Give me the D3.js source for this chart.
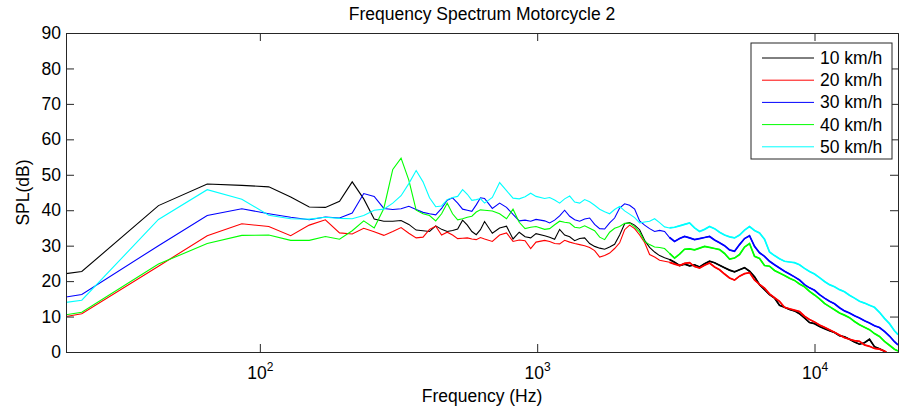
<head>
    <script src="https://d3js.org/d3.v7.min.js"></script>
    <style>
        body { margin: 0; background: #fff; }
        text { font-family: "Liberation Sans", Arial, sans-serif; fill: #000; }
    </style>
</head>
<body>
    <script>
        // frequency grid (Hz): FFT bins at the low end, then ~1 point per 5px of the log axis
        var freq = [20, 22.8, 43.1, 64.6, 86.1, 107.7, 129.2, 150.7, 172.3, 193.8,
            215.3, 236.9, 258.4, 279.9, 301.5, 323.0, 344.5, 366.1, 387.6, 409.1,
            430.7, 452.2, 473.7, 495.3, 516.8, 538.3, 559.9, 581.4, 602.9, 624.4,
            646.0, 689.1, 732.1, 775.2, 818.3, 861.3, 904.4, 947.5, 990.5,
            1064, 1109, 1156, 1205, 1256, 1310, 1365, 1423, 1483, 1546,
            1611, 1680, 1751, 1825, 1902, 1983, 2067, 2154, 2246, 2341,
            2440, 2543, 2651, 2763, 2880, 3002, 3129, 3262, 3400, 3544,
            3694, 3851, 4014, 4184, 4361, 4546, 4738, 4939, 5148, 5366,
            5594, 5830, 6077, 6335, 6603, 6883, 7174, 7478, 7795, 8125,
            8469, 8828, 9202, 9592, 10000, 10424, 10865, 11325, 11805, 12305,
            12826, 13369, 13935, 14526, 15141, 15782, 16451, 17147, 17874, 18631,
            19420, 20000];

        var spl10 = [22.1, 22.7, 41.3, 47.4, 47.0, 46.6, 43.7, 40.9, 40.8, 42.5,
            48.0, 43.2, 37.5, 36.9, 36.9, 37.1, 36.0, 34.4, 34.2, 34.0,
            35.6, 34.6, 34.0, 34.3, 34.7, 37.2, 35.8, 34.0, 33.1, 34.5,
            36.8, 33.5, 35.0, 35.5, 31.9, 33.8, 32.5, 32.2, 33.4,
            32.8, 32.4, 31.8, 34.6, 33.0, 32.5, 31.4, 32.0, 32.2, 30.6,
            29.8, 29.3, 29.0, 29.6, 30.4, 33.0, 36.2, 36.5, 35.8, 34.5,
            31.5, 29.5, 28.2, 27.2, 26.6, 26.1, 25.3, 24.4, 24.8, 24.3,
            24.6, 24.0, 24.9, 25.6, 25.2, 24.5, 23.8, 23.1, 22.6, 23.2,
            23.8, 22.8, 21.2, 19.0, 17.6, 16.2, 15.2, 13.2, 12.6, 12.0,
            11.6, 10.8, 9.6, 8.3, 8.0, 7.2, 6.6, 6.0, 5.5, 4.6,
            4.3, 3.6, 2.8, 2.2, 2.6, 3.6, 1.5, 0.9, 0.2, -0.8,
            -1.5, -2.0];

        var spl20 = [10.0, 10.8, 24.2, 32.8, 36.2, 35.4, 32.8, 35.8, 37.3, 33.6,
            33.3, 34.9, 33.9, 32.9, 34.0, 35.1, 33.5, 32.2, 32.4, 34.6,
            35.5, 33.0, 33.8, 33.0, 32.0, 32.1, 32.2, 31.9, 31.7, 32.3,
            31.9, 31.2, 33.0, 33.6, 31.2, 31.6, 31.4, 29.2, 31.0,
            31.5, 31.2, 30.6, 30.5, 31.5, 31.0, 30.6, 30.3, 30.0, 29.5,
            28.6, 26.8, 27.2, 27.9, 29.2, 30.8, 34.5, 35.8, 34.8, 33.0,
            30.9, 27.5, 26.8, 25.9, 25.6, 25.3, 24.8, 24.4, 25.0, 25.2,
            24.1, 23.7, 24.5, 25.1, 24.0, 23.2, 22.0, 20.9, 20.3, 21.4,
            22.1, 22.4, 20.3, 19.1, 18.0, 16.4, 15.3, 14.3, 12.6, 12.2,
            11.8, 11.4, 10.1, 9.2, 8.5, 7.6, 7.0, 6.3, 5.6, 4.8,
            4.0, 3.6, 3.2, 3.0, 2.0, 1.6, 1.0, 0.8, 0.3, -0.8,
            -1.8, -2.5];

        var spl30 = [15.5, 16.2, 30.0, 38.5, 40.4, 39.0, 38.0, 37.3, 38.1, 37.8,
            39.2, 44.7, 43.9, 40.5, 40.2, 40.4, 41.1, 40.2, 39.4, 39.0,
            38.7, 40.5, 42.8, 43.5, 42.0, 40.3, 40.0, 39.7, 41.5, 43.5,
            43.3, 40.5, 42.0, 40.8, 38.8, 37.0, 37.2, 36.9, 37.4,
            37.0, 36.4, 37.2, 38.4, 40.0, 38.3, 37.3, 36.9, 37.5, 37.8,
            36.0, 34.8, 34.7, 36.4, 37.8, 40.6, 41.8, 41.4, 40.3, 37.0,
            35.8, 34.8, 34.0, 34.3, 34.0, 32.3, 31.2, 32.0, 32.6, 32.2,
            31.7, 32.0, 32.3, 32.6, 31.6, 30.8, 30.0, 28.8, 28.4, 30.3,
            32.0, 32.8, 29.8, 28.0, 27.0, 25.6, 24.6, 23.7, 22.8, 22.0,
            21.2, 20.3, 19.0, 18.1, 17.4, 16.2, 15.2, 14.3, 13.6, 12.5,
            11.6, 11.0, 10.2, 9.6, 8.8, 8.2, 7.4, 6.9, 5.8, 4.5,
            2.9, 2.0];

        var spl40 = [10.5, 11.2, 24.8, 30.6, 32.9, 33.0, 31.5, 31.5, 32.6, 31.8,
            34.2, 37.0, 35.0, 40.5, 51.5, 54.7, 48.5, 40.0, 39.0, 38.5,
            37.0, 39.0, 42.0, 39.0, 37.3, 37.6, 38.0, 38.3, 39.5, 40.1,
            40.0, 39.8, 39.0, 37.6, 40.3, 36.6, 34.8, 35.2, 35.4,
            34.6, 34.8, 35.9, 36.9, 36.6, 36.4, 35.2, 35.0, 35.6, 34.9,
            34.2, 32.4, 31.7, 33.8, 34.9, 35.4, 36.3, 36.4, 35.3, 33.8,
            31.2, 30.3, 29.6, 29.5, 29.2, 27.8, 26.5, 27.6, 29.0, 29.1,
            28.8, 29.3, 29.8, 29.5, 29.2, 28.9, 27.8, 26.2, 26.5, 27.5,
            29.6, 30.6, 27.0, 26.4, 24.4, 24.2, 23.0, 22.3, 21.6, 20.8,
            20.2, 19.2, 18.4, 17.1, 16.1, 15.0, 13.7, 12.8, 11.9, 11.0,
            10.4, 9.7, 8.6, 7.7, 7.0, 6.3, 5.2, 4.4, 3.0, 1.9,
            0.8, 0.3];

        var spl50 = [14.0, 14.6, 37.4, 45.8, 43.1, 38.6, 37.6, 37.5, 38.0, 37.7,
            37.6, 38.5, 40.0, 40.3, 42.0, 44.1, 47.5, 51.2, 48.0, 43.5,
            41.0, 41.2, 43.0, 43.6, 43.9, 45.8, 44.5, 42.8, 43.0, 43.3,
            42.0, 43.6, 47.8, 45.5, 43.4, 43.2, 43.8, 44.8, 43.9,
            43.3, 43.6, 42.9, 42.0, 43.2, 44.0, 42.3, 42.0, 43.0, 42.4,
            41.4, 40.3, 39.6, 39.0, 40.2, 41.1, 39.8, 38.9, 37.9, 36.4,
            36.7, 36.9, 37.6, 36.5, 35.3, 35.0, 35.2, 35.6, 36.0, 36.4,
            35.0, 34.0, 34.6, 35.4, 34.8, 33.8, 33.0, 32.5, 32.2, 33.0,
            34.4, 35.4, 34.3, 33.6, 31.8, 28.2, 27.2, 26.3, 25.6, 25.4,
            25.2, 24.6, 23.6, 22.7, 22.0, 21.0, 19.9, 19.0, 18.4, 17.6,
            17.0, 16.0, 15.2, 14.3, 13.8, 13.2, 12.6, 11.2, 9.5, 8.0,
            6.0, 4.9];

        var labels = ["10 km/h", "20 km/h", "30 km/h", "40 km/h", "50 km/h"];
        var colors = ["#000000", "#ff0000", "#0000ff", "#00ff00", "#00ffff"];
        var yTicks = [0, 10, 20, 30, 40, 50, 60, 70, 80, 90];
        var xTicks = [100, 1000, 10000];

        var series = [spl10, spl20, spl30, spl40, spl50].map(function(v, i) {
            return { name: labels[i], color: colors[i], values: v };
        });

        var width = 903, height = 409;
        var plotL = 66, plotR = 898, plotT = 33, plotB = 352;

        var x = d3.scaleLog().domain([20, 20000]).range([plotL, plotR]);
        var y = d3.scaleLinear().domain([0, 90]).range([plotB, plotT]);

        var svg = d3.select("body").append("svg")
            .attr("width", width)
            .attr("height", height);

        svg.append("defs").append("clipPath")
            .attr("id", "plot-clip")
            .append("rect")
            .attr("x", plotL).attr("y", plotT)
            .attr("width", plotR - plotL).attr("height", plotB - plotT);

        var line = d3.line()
            .x(function(d, i) { return x(freq[i]); })
            .y(function(d) { return y(d); });

        // the dense, noisy upper band reads as a slightly heavier trace
        var lineHigh = d3.line()
            .defined(function(d, i) { return freq[i] >= 3000; })
            .x(function(d, i) { return x(freq[i]); })
            .y(function(d) { return y(d); });

        var plot = svg.append("g").attr("clip-path", "url(#plot-clip)");

        var traces = plot.selectAll("g.spl")
            .data(series)
            .enter()
            .append("g")
            .attr("class", "spl");
        traces.append("path")
            .attr("d", function(d) { return line(d.values); })
            .style("fill", "none")
            .style("stroke", function(d) { return d.color; })
            .style("stroke-width", 1.1);
        traces.append("path")
            .attr("d", function(d) { return lineHigh(d.values); })
            .style("fill", "none")
            .style("stroke", function(d) { return d.color; })
            .style("stroke-width", 1.7);

        var axisColor = "#262626";

        // axes with inward ticks, box on all four sides
        var xAxis = svg.append("g")
            .attr("transform", "translate(0," + plotB + ")")
            .call(d3.axisBottom(x).tickValues(xTicks).tickSize(-8).tickFormat(function() { return ""; }));
        svg.append("g")
            .attr("transform", "translate(0," + plotT + ")")
            .call(d3.axisTop(x).tickValues(xTicks).tickSize(-8).tickFormat(function() { return ""; }));
        svg.append("g")
            .attr("transform", "translate(" + plotL + ",0)")
            .call(d3.axisLeft(y).tickValues(yTicks).tickSize(-8).tickPadding(5));
        svg.append("g")
            .attr("transform", "translate(" + plotR + ",0)")
            .call(d3.axisRight(y).tickValues(yTicks).tickSize(-8).tickFormat(function() { return ""; }));

        svg.selectAll(".domain").style("stroke", axisColor);
        svg.selectAll(".tick line").style("stroke", axisColor);
        svg.selectAll(".tick text")
            .style("font-family", "'Liberation Sans', Arial, sans-serif")
            .style("font-size", "17.5px")
            .style("fill", "#000");

        // 10^n labels with superscript exponent
        xAxis.selectAll(".tick").each(function(d) {
            var t = d3.select(this).append("text")
                .attr("y", 27)
                .attr("text-anchor", "middle")
                .style("font-size", "17.5px");
            t.append("tspan").text("10");
            t.append("tspan").attr("dy", -8).style("font-size", "12px").text(Math.round(Math.log10(d)));
        });

        svg.append("text")
            .attr("x", (plotL + plotR) / 2)
            .attr("y", 20)
            .attr("text-anchor", "middle")
            .style("font-size", "17.5px")
            .text("Frequency Spectrum Motorcycle 2");

        svg.append("text")
            .attr("x", (plotL + plotR) / 2)
            .attr("y", 402)
            .attr("text-anchor", "middle")
            .style("font-size", "17.5px")
            .text("Frequency (Hz)");

        svg.append("text")
            .attr("transform", "translate(29," + (plotT + plotB) / 2 + ") rotate(-90)")
            .attr("text-anchor", "middle")
            .style("font-size", "17.5px")
            .text("SPL(dB)");

        // legend
        var lg = svg.append("g").attr("transform", "translate(751,43)");
        lg.append("rect")
            .attr("width", 141).attr("height", 116)
            .style("fill", "#fff")
            .style("stroke", axisColor);
        var rows = lg.selectAll("g.row")
            .data(series)
            .enter()
            .append("g")
            .attr("class", "row")
            .attr("transform", function(d, i) { return "translate(0," + (15 + i * 22.2) + ")"; });
        rows.append("line")
            .attr("x1", 11).attr("x2", 63)
            .style("stroke", function(d) { return d.color; })
            .style("stroke-width", 1);
        rows.append("text")
            .attr("x", 69)
            .attr("y", 6)
            .style("font-size", "17.5px")
            .text(function(d) { return d.name; });
    </script>
</body>
